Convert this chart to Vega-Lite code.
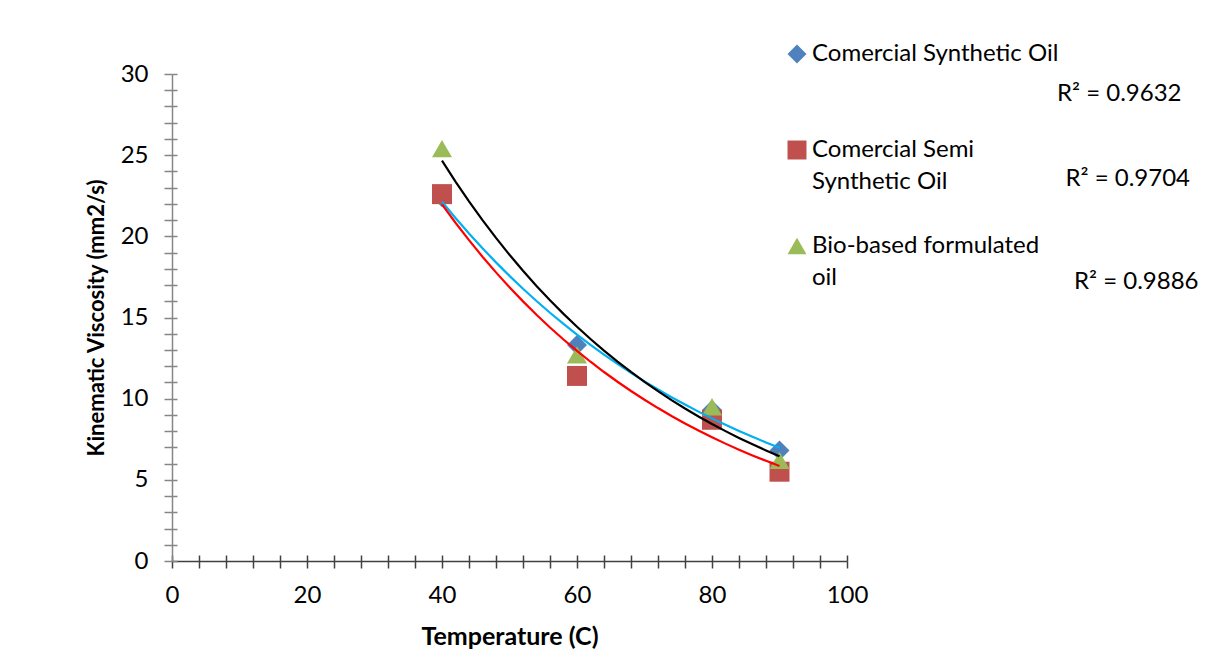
{
  "$schema": "https://vega.github.io/schema/vega-lite/v6.json",
  "autosize": "none",
  "padding": {"left": 172, "top": 74, "right": 385, "bottom": 98},
  "width": 675,
  "height": 487,
  "background": "white",
  "config": {
    "font": "Lato",
    "view": {"stroke": null},
    "axis": {"grid": false, "labelFont": "Lato", "titleFont": "Lato"},
    "style": {"guide-label": {"lineHeight": 32}}
  },
  "data": {
    "values": [
      {"series": "Comercial Synthetic Oil", "trend": "Comercial Synthetic Oil trend", "temp": 40, "visc": 22.4},
      {"series": "Comercial Synthetic Oil", "trend": "Comercial Synthetic Oil trend", "temp": 60, "visc": 13.3},
      {"series": "Comercial Synthetic Oil", "trend": "Comercial Synthetic Oil trend", "temp": 80, "visc": 9.3},
      {"series": "Comercial Synthetic Oil", "trend": "Comercial Synthetic Oil trend", "temp": 90, "visc": 6.8},
      {"series": "Comercial Semi Synthetic Oil", "trend": "Comercial Semi Synthetic Oil trend", "temp": 40, "visc": 22.6},
      {"series": "Comercial Semi Synthetic Oil", "trend": "Comercial Semi Synthetic Oil trend", "temp": 60, "visc": 11.4},
      {"series": "Comercial Semi Synthetic Oil", "trend": "Comercial Semi Synthetic Oil trend", "temp": 80, "visc": 8.7},
      {"series": "Comercial Semi Synthetic Oil", "trend": "Comercial Semi Synthetic Oil trend", "temp": 90, "visc": 5.5},
      {"series": "Bio-based formulated oil", "trend": "Bio-based formulated oil trend", "temp": 40, "visc": 25.4},
      {"series": "Bio-based formulated oil", "trend": "Bio-based formulated oil trend", "temp": 60, "visc": 12.7},
      {"series": "Bio-based formulated oil", "trend": "Bio-based formulated oil trend", "temp": 80, "visc": 9.5},
      {"series": "Bio-based formulated oil", "trend": "Bio-based formulated oil trend", "temp": 90, "visc": 6.2}
    ]
  },
  "layer": [
    {
      "mark": {"type": "point", "filled": true, "opacity": 1, "size": 400},
      "encoding": {
        "x": {
          "field": "temp", "type": "quantitative",
          "scale": {"domain": [0, 100], "nice": false, "zero": true},
          "axis": {
            "values": [0,4,8,12,16,20,24,28,32,36,40,44,48,52,56,60,64,68,72,76,80,84,88,92,96,100],
            "labelExpr": "datum.value % 20 == 0 ? datum.label : ''",
            "tickSize": 7, "tickColor": "#404040", "domainColor": "#404040", "domainWidth": 1.5, "tickWidth": 1.5,
            "labelFontSize": 24, "labelColor": "#000000", "labelPadding": 15, "labelFlush": false, "labelOverlap": false,
            "title": "Temperature (C)", "titleFontSize": 25, "titleFontWeight": "bold", "titleColor": "#000000", "titlePadding": 17
          }
        },
        "y": {
          "field": "visc", "type": "quantitative",
          "scale": {"domain": [0, 30], "nice": false},
          "axis": {
            "values": [0,1,2,3,4,5,6,7,8,9,10,11,12,13,14,15,16,17,18,19,20,21,22,23,24,25,26,27,28,29,30],
            "labelExpr": "datum.value % 5 == 0 ? datum.label : ''",
            "tickSize": 8, "tickColor": "#868686", "domainColor": "#868686", "domainWidth": 1.5, "tickWidth": 1.5,
            "labelFontSize": 24, "labelColor": "#000000", "labelPadding": 16, "labelOverlap": false, "labelFlush": false,
            "title": "Kinematic Viscosity (mm2/s)", "titleFontSize": 22, "titleFontWeight": "bold", "titleColor": "#000000", "titlePadding": 12
          }
        },
        "color": {
          "field": "series", "type": "nominal",
          "scale": {"domain": ["Comercial Synthetic Oil", "Comercial Semi Synthetic Oil", "Bio-based formulated oil"], "range": ["#4F81BD", "#C0504D", "#9BBB59"]},
          "legend": {
            "title": null, "orient": "none", "legendX": 613, "legendY": -32,
            "labelFontSize": 24, "labelFont": "Lato", "labelColor": "#000000", "labelLimit": 0,
            "symbolSize": 360, "rowPadding": 40, "labelOffset": 3,
            "labelExpr": "datum.label == 'Comercial Semi Synthetic Oil' ? ['Comercial Semi', 'Synthetic Oil'] : datum.label == 'Bio-based formulated oil' ? ['Bio-based formulated', 'oil'] : [datum.label, '']",
            "encode": {"labels": {"enter": {"lineHeight": {"value": 32}}, "update": {"lineHeight": {"value": 32}}}}
          }
        },
        "shape": {
          "field": "series", "type": "nominal",
          "scale": {"domain": ["Comercial Synthetic Oil", "Comercial Semi Synthetic Oil", "Bio-based formulated oil"], "range": ["diamond", "square", "triangle-up"]}
        }
      }
    },
    {
      "transform": [
        {"regression": "visc", "on": "temp", "groupby": ["trend"], "method": "exp", "extent": [40, 90]}
      ],
      "mark": {"type": "line", "strokeWidth": 2.2},
      "encoding": {
        "x": {
          "field": "temp", "type": "quantitative",
          "axis": {
            "orient": "bottom",
            "values": [0,4,8,12,16,20,24,28,32,36,40,44,48,52,56,60,64,68,72,76,80,84,88,92,96,100],
            "tickSize": -6, "tickColor": "#404040", "tickWidth": 1.5, "domain": false, "labels": false, "title": null
          }
        },
        "y": {
          "field": "visc", "type": "quantitative",
          "axis": {
            "orient": "left",
            "values": [0,1,2,3,4,5,6,7,8,9,10,11,12,13,14,15,16,17,18,19,20,21,22,23,24,25,26,27,28,29,30],
            "tickSize": -5, "tickColor": "#868686", "tickWidth": 1.5, "domain": false, "labels": false, "title": null
          }
        },
        "stroke": {
          "field": "trend", "type": "nominal",
          "scale": {"domain": ["Comercial Synthetic Oil trend", "Comercial Semi Synthetic Oil trend", "Bio-based formulated oil trend"], "range": ["#00B0F0", "#FF0000", "#000000"]},
          "legend": {
            "title": null, "orient": "none", "legendX": 861, "legendY": 8,
            "labelFontSize": 24, "labelFont": "Lato", "labelColor": "#000000", "labelLimit": 0,
            "symbolOpacity": 0, "symbolStrokeWidth": 0, "symbolSize": 1, "rowPadding": 61, "labelOffset": 0,
            "labelExpr": "datum.index == 0 ? 'R² = 0.9632' : datum.index == 1 ? 'R² = 0.9704' : 'R² = 0.9886'",
            "encode": {"labels": {"update": {"dx": {"signal": "datum.index * 8.5"}, "dy": {"signal": "datum.index == 2 ? 18 : 0"}}}}
          }
        }
      }
    }
  ],
  "resolve": {"axis": {"x": "independent", "y": "independent"}}
}
